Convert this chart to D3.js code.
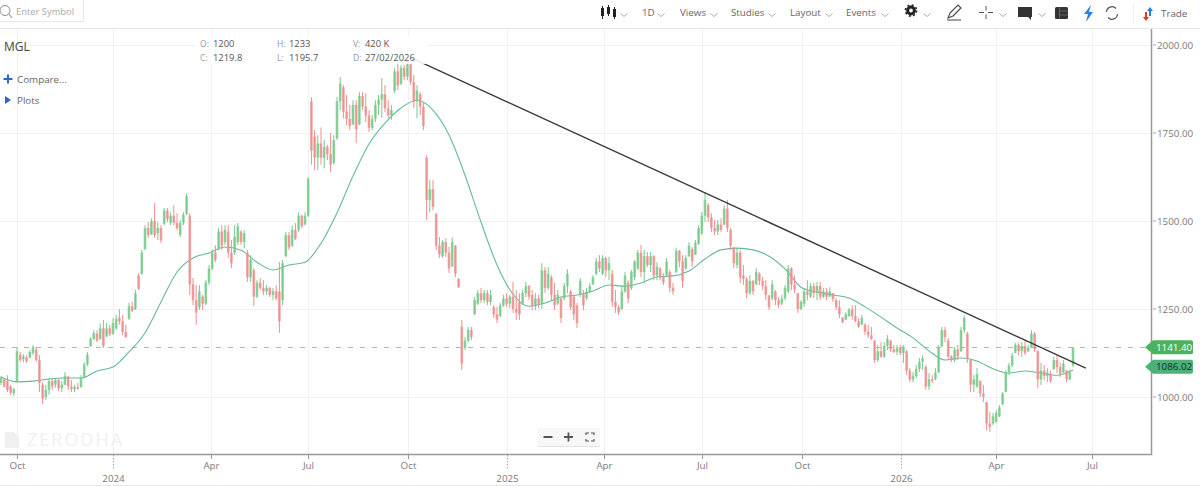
<!DOCTYPE html>
<html><head><meta charset="utf-8">
<style>html,body{margin:0;padding:0;background:#fff;overflow:hidden}svg{display:block;font-family:"Open Sans",sans-serif}</style>
<script src="https://cdn.jsdelivr.net/npm/d3@7"></script></head><body>
<svg id="c" width="1200" height="486"></svg>
<script>
const highs=[1060,1054,1062,1034,1026,1142,1128,1122,1119,1133,
1148,1142,1119,1042,1034,1054,1054,1054,1052,1045,
1071,1060,1048,1034,1040,1062,1099,1128,1170,1190,
1190,1210,1219,1210,1205,1224,1233,1250,1233,1205,
1267,1270,1304,1352,1418,1488,1497,1508,1551,1497,
1488,1537,1537,1525,1545,1522,1503,1525,1579,1522,
1338,1318,1318,1290,1332,1375,1418,1431,1480,1488,
1488,1488,1446,1488,1494,1474,1474,1418,1403,1366,
1332,1338,1332,1318,1312,1310,1318,1383,1389,1469,
1469,1488,1494,1525,1517,1525,1625,1852,1758,1744,
1766,1730,1716,1750,1744,1852,1909,1886,1858,1830,
1843,1843,1866,1866,1863,1815,1801,1843,1858,1906,
1886,1843,1830,1934,1957,1943,1943,1957,1951,1915,
1886,1866,1838,1687,1616,1616,1522,1454,1446,1451,
1426,1454,1432,1338,1219,1170,1199,1199,1284,1304,
1310,1304,1304,1304,1261,1256,1267,1290,1295,1290,
1327,1304,1295,1304,1327,1318,1304,1295,1290,1380,
1369,1369,1346,1324,1304,1284,1324,1363,1304,1290,
1267,1338,1304,1310,1324,1346,1395,1403,1403,1398,
1398,1361,1304,1261,1318,1355,1332,1361,1389,1418,
1432,1418,1412,1412,1403,1383,1369,1352,1395,1361,
1324,1423,1418,1403,1403,1440,1426,1446,1488,1525,
1582,1551,1522,1503,1503,1508,1545,1560,1480,1426,
1423,1418,1375,1341,1346,1332,1366,1355,1341,1332,
1290,1332,1304,1284,1290,1318,1375,1369,1346,1295,
1275,1310,1332,1324,1324,1327,1327,1310,1310,1312,
1295,1281,1275,1227,1241,1253,1261,1261,1224,1233,
1210,1205,1199,1162,1148,1156,1156,1176,1162,1148,
1148,1148,1148,1133,1082,1071,1091,1111,1119,1091,
1068,1062,1082,1148,1199,1199,1168,1119,1142,1148,
1199,1233,1185,1105,1062,1082,1048,1034,986,957,
955,963,977,1014,1077,1097,1125,1153,1153,1156,
1162,1148,1190,1185,1133,1097,1091,1082,1075,1114,
1119,1097,1105,1077,1077,1142];
const lows=[1034,1026,1014,1006,1003,1042,1100,1099,1097,1110,
1119,1100,1014,980,991,1006,1020,1026,1016,1014,
1034,1020,1014,1014,1020,1026,1054,1088,1142,1162,
1156,1162,1139,1170,1173,1176,1190,1205,1176,1168,
1219,1241,1247,1304,1346,1418,1452,1460,1452,1446,
1437,1488,1497,1488,1488,1474,1454,1488,1517,1290,
1261,1205,1247,1247,1261,1318,1361,1383,1418,1418,
1432,1395,1366,1403,1432,1432,1423,1327,1327,1258,
1281,1304,1290,1290,1284,1275,1275,1182,1261,1398,
1418,1426,1446,1469,1480,1488,1511,1660,1645,1645,
1660,1650,1673,1639,1660,1730,1815,1792,1772,1758,
1772,1721,1772,1815,1781,1753,1758,1781,1801,1793,
1810,1792,1787,1863,1872,1886,1900,1900,1886,1820,
1792,1801,1758,1503,1525,1531,1418,1395,1395,1398,
1352,1389,1341,1310,1077,1133,1156,1162,1233,1261,
1267,1267,1261,1261,1224,1210,1227,1256,1256,1253,
1239,1219,1219,1261,1284,1275,1247,1247,1253,1250,
1295,1304,1275,1247,1261,1210,1275,1295,1247,1219,
1196,1284,1247,1275,1295,1318,1346,1355,1346,1341,
1332,1256,1239,1233,1247,1295,1267,1304,1332,1361,
1341,1324,1369,1355,1332,1332,1332,1318,1341,1298,
1290,1352,1369,1310,1361,1398,1369,1403,1432,1460,
1497,1497,1469,1460,1460,1469,1488,1469,1418,1366,
1366,1324,1318,1281,1290,1290,1318,1318,1304,1275,
1247,1275,1261,1253,1261,1275,1295,1304,1295,1239,
1247,1256,1275,1281,1281,1275,1275,1281,1275,1284,
1270,1247,1224,1210,1219,1227,1219,1213,1196,1205,
1176,1168,1162,1097,1099,1111,1111,1133,1128,1125,
1119,1119,1097,1062,1042,1042,1054,1071,1077,1020,
1020,1040,1048,1068,1142,1156,1105,1099,1099,1105,
1128,1182,1097,1014,1014,1026,1000,986,906,901,
920,926,943,977,1014,1062,1085,1125,1119,1114,
1119,1128,1139,1128,1026,1034,1048,1042,1040,1077,
1068,1057,1068,1042,1048,1085];
const opens=[1040,1050,1045,1030,1010,1045,1120,1108,1112,1112,
1125,1135,1105,1035,1000,1020,1045,1035,1048,1025,
1035,1058,1030,1022,1028,1028,1058,1092,1145,1165,
1180,1165,1195,1172,1195,1180,1195,1225,1215,1185,
1222,1258,1250,1345,1350,1420,1480,1462,1500,1465,
1480,1492,1530,1495,1515,1495,1460,1495,1520,1515,
1320,1275,1255,1285,1265,1325,1365,1410,1420,1470,
1440,1470,1410,1410,1440,1470,1440,1410,1340,1360,
1285,1325,1310,1300,1310,1290,1300,1300,1275,1400,
1460,1430,1475,1475,1515,1490,1515,1840,1740,1680,
1720,1680,1710,1690,1665,1735,1840,1880,1810,1790,
1775,1830,1775,1855,1825,1800,1765,1790,1830,1845,
1860,1820,1800,1870,1925,1890,1935,1910,1945,1895,
1840,1860,1825,1680,1560,1590,1520,1430,1400,1440,
1410,1370,1430,1335,1200,1140,1160,1190,1235,1265,
1295,1275,1295,1270,1255,1235,1230,1260,1280,1265,
1285,1250,1270,1265,1295,1315,1290,1260,1280,1265,
1360,1310,1340,1290,1265,1280,1280,1315,1300,1285,
1260,1290,1295,1280,1300,1320,1350,1385,1350,1395,
1360,1350,1270,1255,1250,1300,1325,1310,1340,1365,
1410,1355,1400,1375,1400,1345,1365,1340,1345,1355,
1310,1355,1415,1385,1365,1400,1420,1405,1435,1465,
1515,1545,1510,1480,1470,1490,1490,1535,1475,1425,
1375,1410,1345,1335,1295,1330,1320,1350,1330,1315,
1288,1280,1300,1275,1265,1280,1300,1365,1320,1295,
1250,1265,1300,1285,1315,1295,1315,1285,1300,1285,
1295,1275,1255,1225,1220,1230,1248,1230,1215,1205,
1205,1185,1175,1160,1105,1130,1115,1145,1160,1135,
1128,1140,1125,1130,1075,1050,1060,1080,1100,1085,
1030,1050,1050,1070,1145,1190,1160,1115,1105,1135,
1130,1190,1180,1105,1035,1030,1045,1010,985,925,
925,930,945,980,1015,1070,1090,1125,1148,1130,
1145,1130,1140,1180,1130,1050,1075,1060,1065,1080,
1105,1085,1070,1075,1050,1090];
const closes=[1055,1030,1020,1012,1022,1130,1105,1115,1102,1128,
1142,1105,1040,995,1020,1045,1030,1048,1025,1035,
1060,1030,1022,1028,1024,1055,1092,1120,1165,1182,
1160,1195,1145,1195,1178,1210,1222,1215,1185,1170,
1258,1245,1295,1308,1410,1480,1460,1500,1460,1480,
1445,1530,1505,1515,1495,1480,1495,1518,1570,1320,
1275,1240,1300,1265,1325,1365,1410,1390,1470,1430,
1475,1410,1380,1455,1485,1440,1465,1340,1390,1285,
1325,1310,1300,1310,1290,1300,1280,1215,1380,1460,
1425,1475,1450,1515,1485,1515,1620,1700,1680,1720,
1680,1710,1690,1660,1730,1840,1890,1810,1790,1770,
1830,1760,1855,1825,1800,1765,1790,1830,1845,1860,
1820,1800,1815,1925,1885,1935,1910,1945,1895,1840,
1870,1825,1770,1560,1590,1540,1430,1405,1440,1410,
1365,1440,1350,1312,1095,1160,1190,1170,1275,1295,
1275,1295,1270,1290,1235,1220,1260,1280,1265,1285,
1250,1240,1235,1295,1315,1285,1260,1280,1265,1360,
1310,1350,1290,1260,1290,1225,1315,1350,1255,1235,
1210,1330,1260,1300,1315,1340,1385,1365,1395,1360,
1380,1270,1255,1240,1300,1345,1280,1355,1385,1410,
1355,1400,1375,1400,1345,1370,1340,1325,1385,1310,
1300,1415,1385,1330,1395,1430,1385,1438,1480,1515,
1560,1510,1480,1470,1490,1475,1535,1480,1430,1380,
1410,1340,1335,1295,1330,1300,1355,1330,1315,1290,
1255,1320,1275,1262,1280,1310,1365,1320,1305,1250,
1270,1300,1290,1315,1295,1315,1285,1300,1285,1300,
1278,1255,1235,1212,1235,1248,1230,1215,1200,1225,
1185,1175,1165,1105,1130,1115,1145,1165,1135,1128,
1140,1125,1140,1075,1050,1060,1080,1100,1110,1030,
1050,1045,1070,1140,1190,1170,1115,1105,1135,1115,
1190,1225,1110,1035,1050,1065,1010,1000,925,915,
945,955,970,1010,1070,1090,1118,1148,1130,1145,
1125,1140,1180,1135,1050,1075,1060,1070,1045,1105,
1085,1065,1095,1050,1070,1140];
// moving average, read every 5th session
const maValues=[1057,1043,1045,1051,1054,1054,1074,1085,1128,1182,
1270,1355,1395,1409,1426,1417,1383,1361,1375,1383,
1437,1523,1628,1719,1778,1821,1843,1815,1744,1630,
1497,1375,1292,1258,1267,1284,1290,1301,1318,1315,
1324,1341,1344,1358,1392,1418,1423,1418,1400,1364,
1312,1298,1290,1281,1256,1227,1196,1168,1131,1105,
1111,1102,1080,1068,1074,1068,1062,1077];
const maStep=5;
const monthTicks=[[5,"Oct"],[65.6,"Apr"],[95.9,"Jul"],[127.3,"Oct"],[188.4,"Apr"],[219.2,"Jul"],[250.3,"Oct"],[310.8,"Apr"],[340.9,"Jul"]];
const yearTicks=[[35,"2024"],[158.1,"2025"],[281.1,"2026"]];
const priceTicks=[2000,1750,1500,1250,1000];
const lastClose=1141.40, maLast=1086.02;
const trendSessions=[128.4,339], trendPrices=[1963,1082];
const legendRows=[["O:","1200","H:","1233","V:","420 K"],["C:","1219.8","L:","1195.7","D:","27/02/2026"]];
const toolbarLabels=[["1D",642],["Views",680],["Studies",731],["Layout",790],["Events",846]];

const svg=d3.select("#c");
const n=closes.length;
const x=d3.scaleLinear().domain([0,335]).range([1,1073]);
const y=d3.scaleLinear().domain([1000,2000]).range([397,45]);
const gray="#7a7a7a";

// grid
const grid=svg.append("g").attr("stroke","#f1f1f1").attr("stroke-width",1).attr("shape-rendering","crispEdges");
priceTicks.forEach(p=>grid.append("line").attr("x1",0).attr("x2",1151).attr("y1",y(p)).attr("y2",y(p)));
[...monthTicks,...yearTicks].forEach(t=>grid.append("line").attr("x1",Math.round(x(t[0]))+.5).attr("x2",Math.round(x(t[0]))+.5).attr("y1",28).attr("y2",454));

// watermark
const wm=svg.append("g");
wm.append("path").attr("d","M5 432h9l5 5v11H5z").attr("fill","#f0f0f0");
wm.append("text").attr("x",27).attr("y",446).attr("font-size",18).attr("letter-spacing",2).attr("fill","#f0f0f0").text("ZERODHA");

// last price dashed
svg.append("line").attr("x1",0).attr("x2",1151).attr("y1",Math.round(y(lastClose))+.5).attr("y2",Math.round(y(lastClose))+.5)
 .attr("stroke","#7ed6a2").attr("stroke-width",1).attr("stroke-dasharray","5,7");

// MA
const maPts=maValues.map((v,k)=>[Math.min(k*maStep,n-1),v]);
const maLine=d3.line().x(d=>x(d[0])).y(d=>y(d[1])).curve(d3.curveMonotoneX);
svg.append("path").attr("d",maLine(maPts)).attr("fill","none").attr("stroke","#62bb94").attr("stroke-width",1.1);

// candles
const idx=d3.range(n);
const up="#78c98c",down="#ec8f8f";
const col=i=>closes[i]>=opens[i]?up:down;
const cg=svg.append("g");
cg.selectAll("line").data(idx).join("line")
 .attr("x1",i=>x(i)).attr("x2",i=>x(i)).attr("y1",i=>y(highs[i])).attr("y2",i=>y(lows[i]))
 .attr("stroke",col).attr("stroke-width",1);
cg.selectAll("rect").data(idx).join("rect")
 .attr("x",i=>x(i)-1.3).attr("width",2.6)
 .attr("y",i=>y(Math.max(opens[i],closes[i])))
 .attr("height",i=>Math.max(1,Math.abs(y(opens[i])-y(closes[i]))))
 .attr("fill",col).attr("opacity",.8);

// trend line
svg.append("line").attr("x1",x(trendSessions[0])).attr("x2",x(trendSessions[1]))
 .attr("y1",y(trendPrices[0])).attr("y2",y(trendPrices[1]))
 .attr("stroke","#3a3a3a").attr("stroke-width",1.4);

// legend block with halo
svg.append("rect").attr("x",195).attr("y",36).attr("width",232).attr("height",28).attr("fill","#fff").attr("opacity",.88);
const lg=svg.append("g").attr("font-size",9.4);
legendRows.forEach((r,ri)=>{
 const yy=47+ri*13.5;
 [[200,213],[277,289],[353,365]].forEach((p,ci)=>{
  lg.append("text").attr("x",p[0]).attr("y",yy).attr("fill","#999").attr("font-size",8.6).text(r[ci*2]);
  lg.append("text").attr("x",p[1]).attr("y",yy).attr("fill","#555").text(r[ci*2+1]);
 });
});

// left labels
svg.append("text").attr("x",4).attr("y",51).attr("font-size",12).attr("fill","#444").text("MGL");
svg.append("path").attr("d","M3.5 79h9M8 74.5v9").attr("stroke","#2a66c8").attr("stroke-width",2);
svg.append("text").attr("x",17).attr("y",83).attr("font-size",9.8).attr("fill","#666").text("Compare...");
svg.append("path").attr("d","M5 96l6 4-6 4z").attr("fill","#2a66c8");
svg.append("text").attr("x",17).attr("y",104).attr("font-size",9.8).attr("fill","#666").text("Plots");

// axes frame
svg.append("path").attr("d","M0 454.5H1151.5V28").attr("fill","none").attr("stroke","#999").attr("stroke-width",1.5);
svg.append("line").attr("x1",0).attr("x2",1200).attr("y1",28.5).attr("y2",28.5).attr("stroke","#e6e6e6");
svg.append("line").attr("x1",0).attr("x2",1200).attr("y1",485.5).attr("y2",485.5).attr("stroke","#e6e6e6");

// y axis
const ya=svg.append("g").attr("font-size",9.8).attr("fill",gray);
priceTicks.forEach(p=>{
 ya.append("line").attr("x1",1153).attr("x2",1156).attr("y1",y(p)).attr("y2",y(p)).attr("stroke","#aaa");
 ya.append("text").attr("x",1157).attr("y",y(p)+3.5).text(d3.format(".2f")(p));
});

// x axis
const xa=svg.append("g").attr("font-size",9.8).attr("fill",gray).attr("text-anchor","middle");
monthTicks.forEach(t=>{
 const px=Math.round(x(t[0]))+.5;
 xa.append("line").attr("x1",px).attr("x2",px).attr("y1",455).attr("y2",459).attr("stroke","#999");
 xa.append("text").attr("x",px).attr("y",469).text(t[1]);
});
yearTicks.forEach(t=>{
 const px=Math.round(x(t[0]))+.5;
 xa.append("line").attr("x1",px).attr("x2",px).attr("y1",455).attr("y2",470).attr("stroke","#aaa").attr("stroke-dasharray","1.5,1.5");
 xa.append("text").attr("x",px).attr("y",482).text(t[1]);
});

// price tags
function tag(val,fill,txt){
 const cy=y(val);
 svg.append("path").attr("d",`M1145 ${cy}l8 -7h38a2 2 0 0 1 2 2v10a2 2 0 0 1 -2 2h-38z`).attr("fill",fill);
 svg.append("text").attr("x",1156).attr("y",cy+3.5).attr("font-size",9.8).attr("fill",txt).text(d3.format(".2f")(val));
}
tag(lastClose,"#4db25d","#fff");
tag(maLast,"#4db27a","#0b2e1c");

// zoom controls
const z=svg.append("g");
z.append("rect").attr("x",537).attr("y",428).attr("width",63).attr("height",18).attr("fill","#f7f7f7");
z.append("line").attr("x1",537).attr("x2",600).attr("y1",446.5).attr("y2",446.5).attr("stroke","#e4e4e4");
z.append("path").attr("d","M543.5 437h9M564 437h9M568.5 432.5v9").attr("stroke","#555").attr("stroke-width",1.8);
z.append("path").attr("d","M586 435v-2h3M591 433h3v2M594 439v2h-3M589 441h-3v-2").attr("fill","none").attr("stroke","#555").attr("stroke-width",1.2);

// top toolbar
const tb=svg.append("g");
tb.append("rect").attr("x",-1).attr("y",-1).attr("width",84.5).attr("height",22.5).attr("fill","#fff").attr("stroke","#e8e8e8");
tb.append("circle").attr("cx",5).attr("cy",10.5).attr("r",5).attr("fill","none").attr("stroke","#888");
tb.append("line").attr("x1",9).attr("y1",14).attr("x2",12).attr("y2",18).attr("stroke","#888");
tb.append("text").attr("x",16).attr("y",15).attr("font-size",9.4).attr("fill","#aaa").text("Enter Symbol");
toolbarLabels.forEach(t=>tb.append("text").attr("x",t[1]).attr("y",16).attr("font-size",9.8).attr("fill","#666").text(t[0]));
function chev(cx){tb.append("path").attr("d",`M${cx-3.5} 13.5l3.5 3 3.5-3`).attr("fill","none").attr("stroke","#aaa");}
[624,661,714,772,829,885,927,1003,1042].forEach(chev);
// candle icon
tb.append("path").attr("d","M601 8h3v8h-3zM607 7h3v7h-3zM613 9h3v8h-3z").attr("fill","#222");
tb.append("path").attr("d","M602.5 6v13M608.5 5v11M614.5 7v12").attr("stroke","#222");
// gear
tb.append("circle").attr("cx",911).attr("cy",10.5).attr("r",3.4).attr("fill","none").attr("stroke","#222").attr("stroke-width",3);
tb.append("circle").attr("cx",911).attr("cy",10.5).attr("r",5.6).attr("fill","none").attr("stroke","#222").attr("stroke-width",1.6).attr("stroke-dasharray","2,2.4");
// pencil
tb.append("path").attr("d","M948 18l2-5 8-8 3 3-8 8zM947 20h14").attr("fill","none").attr("stroke","#444").attr("stroke-width",1.1);
// crosshair
tb.append("path").attr("d","M986 6v4.5M986 14.5v4.5M979 12.5h5M988 12.5h5").attr("stroke","#555");
// chat
tb.append("path").attr("d","M1018 7h14v10h-1v3l-3-3h-10z").attr("fill","#333");
// table
tb.append("rect").attr("x",1055).attr("y",7).attr("width",13).attr("height",12).attr("rx",1.5).attr("fill","#333");
tb.append("path").attr("d","M1059.5 7v12M1059 11h9M1059 15h9").attr("stroke","#777").attr("stroke-width",.7);
// bolt
tb.append("path").attr("d","M1091 5l-7 9h4l-2 8 7-10h-4z").attr("fill","#2f7be8");
// refresh
tb.append("path").attr("d","M1106.5 12a5.5 5.5 0 0 1 9.5-3.5M1117.5 14a5.5 5.5 0 0 1-9.5 3.5").attr("fill","none").attr("stroke","#555").attr("stroke-width",1.2);
tb.append("line").attr("x1",1133.5).attr("x2",1133.5).attr("y1",4).attr("y2",24).attr("stroke","#eee");
// trade
tb.append("path").attr("d","M1150 7l3 4h-2v5h-2v-5h-2z").attr("fill","#2a7de1");
tb.append("path").attr("d","M1146 21l-3-4h2v-5h2v5h2z").attr("fill","#e0392b");
tb.append("text").attr("x",1161).attr("y",16.5).attr("font-size",9.8).attr("fill","#666").text("Trade");
</script></body></html>
